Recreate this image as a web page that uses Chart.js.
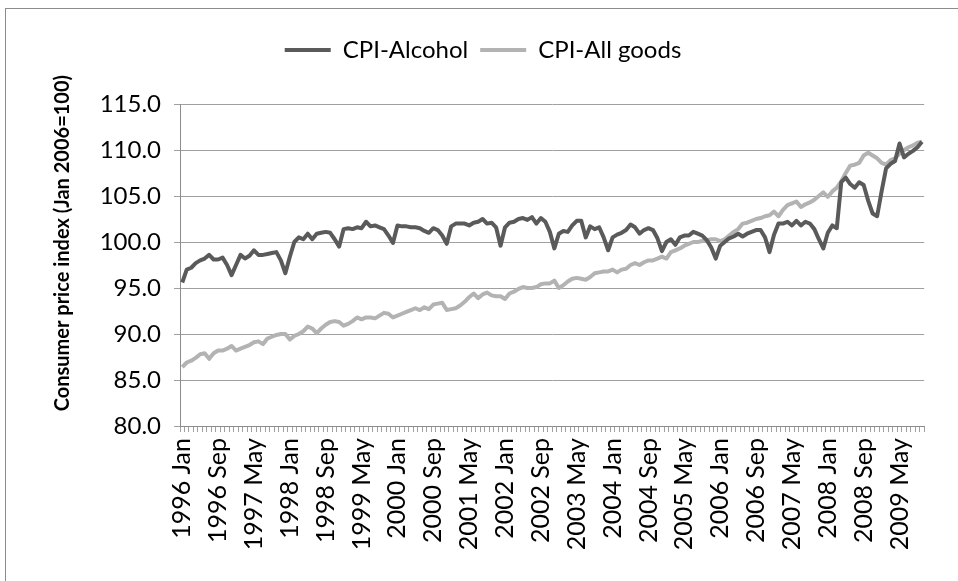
<!DOCTYPE html>
<html>
<head>
<meta charset="utf-8">
<script src="https://cdn.jsdelivr.net/npm/chart.js@4/dist/chart.umd.min.js"></script>
<style>
  html, body { margin: 0; padding: 0; background: #fff; }
  #frame { position: absolute; left: 5px; top: 8px; width: 970px; height: 590px; border: 1px solid #8c8c8c; }
  #wrap { position: absolute; left: 0; top: 0; width: 958px; height: 581px; }
</style>
</head>
<body>
<div id="frame"></div>
<div id="wrap"><canvas id="chart" width="958" height="581"></canvas></div>
<script>
const startYear = 1996;
const monthNames = ['Jan','Feb','Mar','Apr','May','Jun','Jul','Aug','Sep','Oct','Nov','Dec'];
const nMonths = 166; // 1996 Jan .. 2009 Oct
const labelEvery = 8;

// CPI-Alcohol, monthly
const alcohol = [
  95.6, 97.0, 97.2, 97.7, 98.0, 98.2, 98.6, 98.1, 98.1, 98.3, 97.5, 96.4,
  97.5, 98.6, 98.2, 98.5, 99.1, 98.6, 98.6, 98.7, 98.8, 98.9, 98.0, 96.6,
  98.4, 100.0, 100.5, 100.3, 100.9, 100.3, 100.9, 101.0, 101.1, 101.0, 100.3, 99.5,
  101.4, 101.5, 101.4, 101.6, 101.5, 102.2, 101.7, 101.8, 101.6, 101.4, 100.7, 99.9,
  101.8, 101.7, 101.7, 101.6, 101.6, 101.5, 101.2, 101.0, 101.5, 101.3, 100.7, 99.8,
  101.7, 102.0, 102.0, 102.0, 101.8, 102.1, 102.2, 102.5, 102.0, 102.1, 101.6, 99.6,
  101.6, 102.1, 102.2, 102.5, 102.6, 102.4, 102.7, 102.0, 102.6, 102.2, 101.1, 99.3,
  100.9, 101.2, 101.1, 101.8, 102.3, 102.3, 100.5, 101.7, 101.4, 101.6, 100.5, 99.1,
  100.5, 100.8, 101.0, 101.3, 101.9, 101.6, 100.9, 101.3, 101.5, 101.3, 100.4, 99.0,
  100.0, 100.3, 99.7, 100.5, 100.7, 100.7, 101.1, 100.9, 100.7, 100.2, 99.4, 98.2,
  99.6, 100.0, 100.4, 100.6, 100.9, 100.6, 100.9, 101.1, 101.3, 101.3, 100.5, 98.9,
  100.8, 102.0, 102.0, 102.2, 101.8, 102.3, 101.8, 102.2, 102.0, 101.4, 100.3, 99.3,
  101.0, 101.8, 101.5, 106.5, 107.0, 106.3, 105.9, 106.5, 106.2, 104.5, 103.1, 102.8,
  105.5, 108.0, 108.5, 108.8, 110.7, 109.2, 109.6, 109.9, 110.3, 110.9
];

// CPI-All goods, monthly
const allGoods = [
  86.4, 86.9, 87.1, 87.4, 87.8, 87.9, 87.3, 87.9, 88.2, 88.2, 88.4, 88.7,
  88.2, 88.4, 88.6, 88.8, 89.1, 89.2, 88.9, 89.5, 89.7, 89.9, 90.0, 90.0,
  89.4, 89.8, 90.0, 90.3, 90.8, 90.6, 90.1, 90.6, 91.0, 91.3, 91.4, 91.3,
  90.9, 91.1, 91.4, 91.8, 91.6, 91.8, 91.8, 91.7, 92.0, 92.3, 92.2, 91.8,
  92.0, 92.2, 92.4, 92.6, 92.8, 92.6, 92.9, 92.7, 93.2, 93.3, 93.4, 92.6,
  92.7, 92.8, 93.1, 93.5, 94.0, 94.4, 93.9, 94.3, 94.5, 94.2, 94.1, 94.1,
  93.8, 94.4, 94.6, 94.9, 95.1, 95.0, 95.0, 95.1, 95.4, 95.5, 95.5, 95.8,
  95.0, 95.3, 95.7, 96.0, 96.1, 96.0, 95.9, 96.2, 96.6, 96.7, 96.8, 96.8,
  97.0, 96.7, 97.0, 97.1, 97.5, 97.7, 97.5, 97.8, 98.0, 98.0, 98.2, 98.4,
  98.2, 98.9, 99.1, 99.3, 99.6, 99.8, 100.0, 100.0, 100.1, 100.2, 100.3, 100.3,
  100.1, 100.3, 100.7, 101.1, 101.4, 102.0, 102.1, 102.3, 102.5, 102.6, 102.8, 102.9,
  103.3, 102.8, 103.5, 104.0, 104.2, 104.4, 103.8, 104.1, 104.3, 104.6, 105.0, 105.4,
  104.9, 105.5, 105.9, 106.6, 107.5, 108.3, 108.4, 108.6, 109.4, 109.7, 109.4, 109.1,
  108.6, 108.4, 108.9, 109.1, 109.6, 110.0, 110.3, 110.5, 110.8, 110.9
];

const categories = [];
for (let i = 0; i < nMonths; i++) {
  categories.push(`${startYear + Math.floor(i / 12)} ${monthNames[i % 12]}`);
}

const fam = 'Lato, "Open Sans", sans-serif';
const padLeft = 24;

// extra room under the legend, like the Excel plot area
const legendGap = {
  id: 'legendGap',
  beforeLayout(chart) {
    const lg = chart.legend;
    if (lg && !lg._gapPatched) {
      const fit = lg.fit.bind(lg);
      lg.fit = function () { fit(); this.height += 32; };
      lg._gapPatched = true;
    }
  }
};

new Chart(document.getElementById('chart'), {
  type: 'line',
  data: {
    labels: categories,
    datasets: [
      { label: 'CPI-Alcohol', data: alcohol, borderColor: '#5a5a5a', backgroundColor: '#5a5a5a',
        borderWidth: 4, pointRadius: 0, tension: 0, borderJoinStyle: 'round', fill: false },
      { label: 'CPI-All goods', data: allGoods, borderColor: '#b3b3b3', backgroundColor: '#b3b3b3',
        borderWidth: 4, pointRadius: 0, tension: 0, borderJoinStyle: 'round', fill: false }
    ]
  },
  options: {
    responsive: false,
    animation: false,
    layout: { padding: { top: 26, left: padLeft, right: 16, bottom: 0 } },
    plugins: {
      legend: {
        position: 'top',
        labels: { font: { family: fam, size: 24 }, color: '#000', usePointStyle: true, pointStyle: 'line', pointStyleWidth: 46, padding: 12 }
      },
      tooltip: { enabled: false }
    },
    scales: {
      x: {
        offset: true,
        grid: { offset: true, drawOnChartArea: false, drawTicks: true, tickLength: 6, color: '#a0a0a0' },
        border: { color: '#8c8c8c' },
        ticks: {
          autoSkip: false, minRotation: 90, maxRotation: 90, padding: 6, color: '#000',
          font: { family: fam, size: 25 },
          callback(v, i) { return i % labelEvery === 0 ? this.getLabelForValue(v) : ''; }
        },
        afterFit: s => { s.height = 155; }
      },
      y: {
        min: 80, max: 115,
        grid: { color: '#a0a0a0', tickLength: 6 },
        border: { color: '#8c8c8c' },
        ticks: { stepSize: 5, padding: 13, color: '#000', font: { family: fam, size: 24 }, callback: v => v.toFixed(1) },
        title: {
          display: true,
          text: '\u00a0\u00a0\u00a0\u00a0\u00a0\u00a0\u00a0\u00a0\u00a0Consumer price index (Jan 2006=100)',
          color: '#000',
          font: { family: fam, size: 20, weight: 'bold' }, padding: { top: 51 - padLeft, bottom: 0 }
        },
        afterFit: s => { s.width = 180 - padLeft; }
      }
    }
  },
  plugins: [legendGap]
});
</script>
</body>
</html>
